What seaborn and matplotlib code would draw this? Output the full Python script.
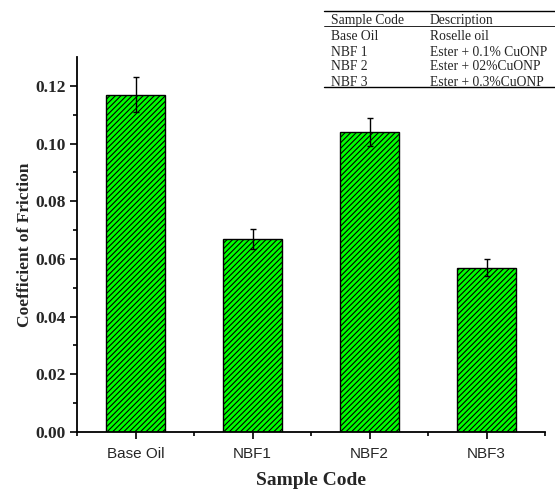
import matplotlib
matplotlib.use("Agg")
import matplotlib.pyplot as plt
import seaborn as sns
import pandas as pd
import numpy as np
from matplotlib.lines import Line2D
from matplotlib.ticker import FixedLocator

categories = ["Base Oil", "NBF1", "NBF2", "NBF3"]
cof = [0.117, 0.067, 0.104, 0.057]
cof_err = [0.006, 0.0035, 0.005, 0.003]

table_header = ["Sample Code", "Description"]
table_codes = ["Base Oil", "NBF 1", "NBF 2", "NBF 3"]
table_desc = ["Roselle oil", "Ester + 0.1% CuONP", "Ester + 02%CuONP", "Ester + 0.3%CuONP"]

sns.set_style("ticks")
plt.rcParams["hatch.linewidth"] = 0.8
df = pd.DataFrame({"Sample Code": categories, "COF": cof})

fig = plt.figure(figsize=(5.55, 4.9), dpi=100)
ax = fig.add_axes([77/555, 1-432/490, (545-77)/555, (432-57)/490])

sns.barplot(data=df, x="Sample Code", y="COF", order=categories, ax=ax,
            color="#00ff00", saturation=1, width=0.5, edgecolor="black",
            linewidth=1.0, errorbar=None)
for p in ax.patches:
    p.set_hatch("//////")
    p.set_facecolor("#00ff00")
    p.set_edgecolor("black")

ax.errorbar(np.arange(len(categories)), cof, yerr=cof_err, fmt="none",
            ecolor="black", elinewidth=1.0, capsize=2.5, capthick=1.0)

ax.set_xlim(-0.5, 3.5)
ax.set_ylim(0, 0.13)
ax.yaxis.set_major_locator(FixedLocator([0, 0.02, 0.04, 0.06, 0.08, 0.10, 0.12]))
ax.yaxis.set_minor_locator(FixedLocator([0.01, 0.03, 0.05, 0.07, 0.09, 0.11]))
ax.xaxis.set_minor_locator(FixedLocator([-0.5, 0.5, 1.5, 2.5, 3.5]))
ax.set_yticklabels(["0.00", "0.02", "0.04", "0.06", "0.08", "0.10", "0.12"],
                   fontfamily="Liberation Serif", fontweight="bold", fontsize=12.5)
ax.set_xticks(range(len(categories)))
ax.set_xticklabels(categories, fontfamily="Liberation Sans", fontsize=11)
ax.tick_params(axis="both", which="major", direction="out", length=5, width=1.2, color="black")
ax.tick_params(axis="both", which="minor", direction="out", length=3, width=1.2, color="black")
ax.tick_params(axis="x", which="major", pad=6)
ax.tick_params(axis="y", which="major", pad=3)

ax.set_xlabel("Sample Code", fontfamily="Liberation Serif", fontweight="bold", fontsize=14, labelpad=8)
ax.set_ylabel("Coefficient of Friction", fontfamily="Liberation Serif", fontweight="bold", fontsize=12.5, labelpad=2)

for s in ["top", "right"]:
    ax.spines[s].set_visible(False)
for s in ["left", "bottom"]:
    ax.spines[s].set_linewidth(1.3)
    ax.spines[s].set_color("black")

# table annotation
W, H = 555, 490
def fx(x): return x / W
def fy(y): return 1 - y / H
for y, lw in [(11, 1.0), (26, 0.6), (87, 1.0)]:
    fig.add_artist(Line2D([fx(324), fx(555)], [fy(y), fy(y)], color="black", lw=lw))
tfont = dict(fontfamily="Liberation Serif", fontsize=9.8, va="center", ha="left")
fig.text(fx(331), fy(20.5), table_header[0], **tfont)
fig.text(fx(430), fy(20.5), table_header[1], **tfont)
for i, (c, d) in enumerate(zip(table_codes, table_desc)):
    yy = 37 + i * 15
    fig.text(fx(331), fy(yy), c, **tfont)
    fig.text(fx(430), fy(yy), d, **tfont)

fig.savefig("out.png", dpi=100)
